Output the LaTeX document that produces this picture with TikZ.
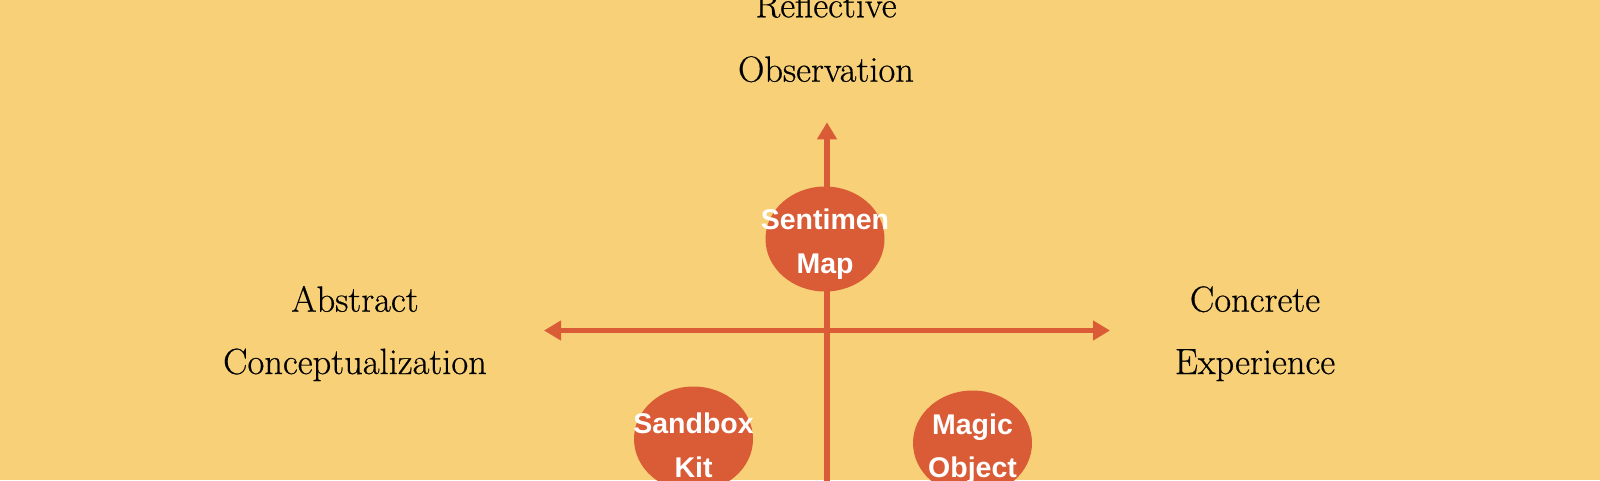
\documentclass[tikz,border=0pt]{standalone}
\usepackage{fontspec}
\usetikzlibrary{arrows.meta,shapes.geometric}
\newfontfamily\blobfont{Liberation Sans}[Scale=1.0]
\newfontfamily\lblfont{Latin Modern Roman}[FakeBold=0.5]
\definecolor{bgc}{RGB}{247,208,119}
\definecolor{orc}{RGB}{217,92,54}
\tikzset{
  axis/.style={draw=orc, line width=5.5pt},
  tipstyle/.style={-{Triangle[length=17pt,width=19pt]}},
  blob/.style={ellipse, fill=orc, draw=none, minimum width=119pt, minimum height=105pt, inner sep=0pt},
  blobtxt/.style={anchor=base, inner sep=0pt, text=white, font=\blobfont\bfseries\fontsize{28.5}{30}\selectfont},
  lbl/.style={anchor=base, inner sep=0pt, text=black, font=\lblfont\fontsize{36.5}{40}\selectfont}
}
\begin{document}
\begin{tikzpicture}[x=1pt,y=-1pt]
\fill[bgc] (0,0) rectangle (1600,480);
\useasboundingbox (0,0) rectangle (1600,480);
% axes
\coordinate (hl) at (544,330.5);
\coordinate (hr) at (1110,330.5);
\coordinate (vt) at (827,122.3);
\coordinate (vb) at (827,482);
\draw[axis,{Triangle[length=17pt,width=19pt]}-{Triangle[length=17pt,width=19pt]}] (hl) -- (hr);
\draw[axis,tipstyle] (vb) -- (vt);
% circles
\node[blob] (sm) at (825,239) {};
\node[blob] (sk) at (693.5,439) {};
\node[blob] (mo) at (972.5,443) {};
\node[blobtxt] (sm1) at (825,229) {Sentimen};
\node[blobtxt] (sm2) at (825,273) {Map};
\node[blobtxt] (sk1) at (693.5,433) {Sandbox};
\node[blobtxt] (sk2) at (693.5,477) {Kit};
\node[blobtxt] (mo1) at (972.5,434) {Magic};
\node[blobtxt] (mo2) at (972.5,477) {Object};
% labels
\node[lbl] (ro1) at (826,17.3) {Reflective};
\node[lbl] (ro2) at (826,81.7) {Observation};
\node[lbl] (ac1) at (355,311.7) {Abstract};
\node[lbl] (ac2) at (355,374) {Conceptualization};
\node[lbl] (ce1) at (1255,311.7) {Concrete};
\node[lbl] (ce2) at (1255,374) {Experience};
\end{tikzpicture}
\end{document}
